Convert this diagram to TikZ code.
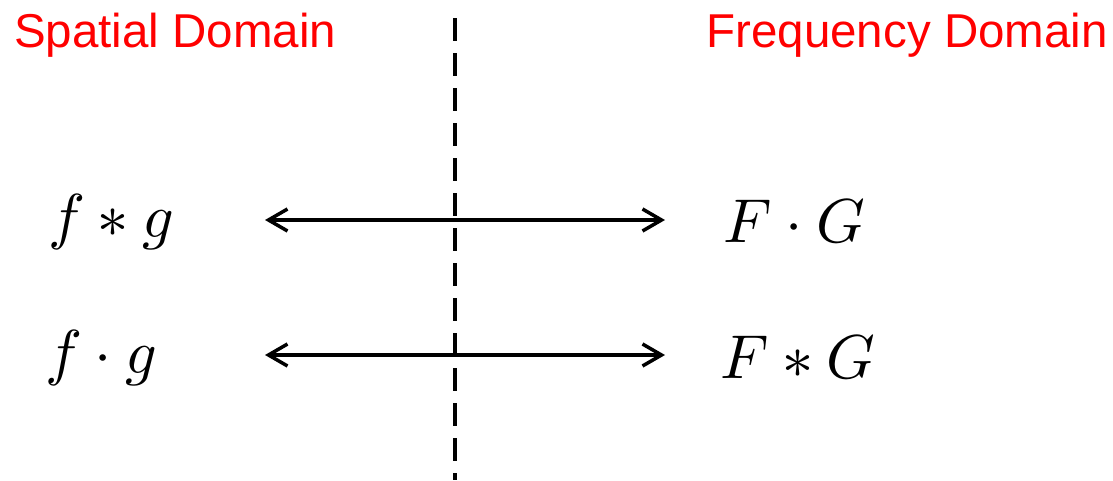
\documentclass[tikz,border=0pt]{standalone}
\usepackage{fontspec}
\usepackage{unicode-math}
\setmathfont{Latin Modern Math}
\setsansfont{Liberation Sans}
\usetikzlibrary{arrows.meta}
\begin{document}
\begin{tikzpicture}[x=1pt,y=-1pt,
  domlabel/.style={text=red, font=\sffamily\fontsize{47.5}{50}\selectfont, inner sep=0pt},
  mathlabel/.style={font=\fontsize{62}{66}\selectfont, inner sep=0pt},
  biarrow/.style={line width=3.5pt, {Straight Barb[length=19pt,width=22pt,line width=3.5pt]}-{Straight Barb[length=19pt,width=22pt,line width=3.5pt]}},
  divider/.style={line width=3.5pt, dash pattern=on 23pt off 12pt}]
\useasboundingbox (0,0) rectangle (1113,480);
\node[domlabel, anchor=base west] (sd) at (14,47) {Spatial Domain};
\node[domlabel, anchor=base east] (fd) at (1108,47) {Frequency Domain};
\coordinate (dtop) at (455,18);
\coordinate (dbot) at (455,480);
\draw[divider] (dtop) -- (dbot);
\node[mathlabel, anchor=base west] (conv) at (48,237) {$f * g$};
\node[mathlabel, anchor=base west] (prod) at (45,373) {$f \cdot g$};
\node[mathlabel, anchor=base west] (fprod) at (723,242) {$F \cdot G$};
\node[mathlabel, anchor=base west] (fconv) at (720,378) {$F * G$};
\coordinate (l1) at (265,220);
\coordinate (r1) at (665,220);
\coordinate (l2) at (265,355);
\coordinate (r2) at (665,355);
\draw[biarrow] (l1) -- (r1);
\draw[biarrow] (l2) -- (r2);
\end{tikzpicture}
\end{document}
